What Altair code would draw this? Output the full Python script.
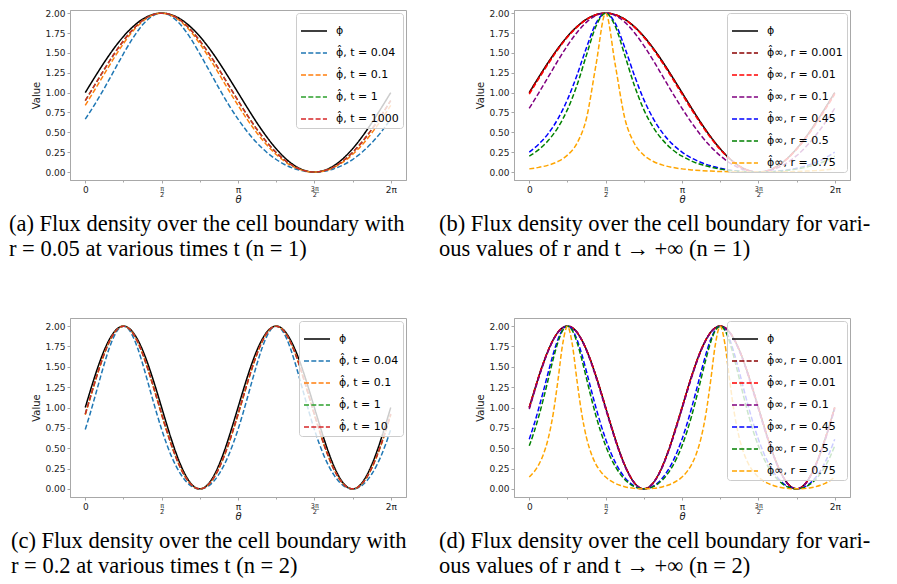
import altair as alt
import pandas as pd

# ---------------- theta grids ----------------
THETA_N1 = [0, 0.196, 0.393, 0.589, 0.785, 0.982, 1.178, 1.374, 1.571, 1.767, 1.963, 2.160, 2.356,
            2.553, 2.749, 2.945, 3.142, 3.338, 3.534, 3.731, 3.927, 4.123, 4.320, 4.516, 4.712,
            4.909, 5.105, 5.301, 5.498, 5.694, 5.890, 6.087, 6.283]
THETA_N2 = [0, 0.098, 0.196, 0.295, 0.393, 0.491, 0.589, 0.687, 0.785, 0.884, 0.982, 1.080, 1.178,
            1.276, 1.374, 1.473, 1.571, 1.669, 1.767, 1.865, 1.963, 2.062, 2.160, 2.258, 2.356,
            2.454, 2.553, 2.651, 2.749, 2.847, 2.945, 3.043, 3.142, 3.240, 3.338, 3.436, 3.534,
            3.633, 3.731, 3.829, 3.927, 4.025, 4.123, 4.221, 4.320, 4.418, 4.516, 4.614, 4.712,
            4.811, 4.909, 5.007, 5.105, 5.203, 5.301, 5.400, 5.498, 5.596, 5.694, 5.792, 5.890,
            5.989, 6.087, 6.185, 6.283]

# ---------------- panel (a): n = 1, r = 0.05 ----------------
A_PHI = [1.0, 1.195, 1.383, 1.556, 1.707, 1.831, 1.924, 1.981, 2.0, 1.981, 1.924, 1.831, 1.707, 1.556,
         1.383, 1.195, 1.0, 0.805, 0.617, 0.444, 0.293, 0.169, 0.076, 0.019, 0.0, 0.019, 0.076, 0.169,
         0.293, 0.444, 0.617, 0.805, 1.0]
A_T004 = [0.667, 0.852, 1.057, 1.273, 1.489, 1.689, 1.853, 1.962, 2.0, 1.962, 1.853, 1.689, 1.489,
          1.273, 1.057, 0.852, 0.667, 0.504, 0.365, 0.25, 0.158, 0.088, 0.039, 0.01, 0.0, 0.01, 0.039,
          0.088, 0.158, 0.25, 0.365, 0.504, 0.667]
A_T01 = [0.84, 1.036, 1.237, 1.434, 1.617, 1.775, 1.896, 1.974, 2.0, 1.974, 1.896, 1.775, 1.617, 1.434,
         1.237, 1.036, 0.84, 0.656, 0.489, 0.343, 0.221, 0.125, 0.056, 0.014, 0.0, 0.014, 0.056, 0.125,
         0.221, 0.343, 0.489, 0.656, 0.84]
A_T1 = [0.9, 1.097, 1.294, 1.483, 1.653, 1.798, 1.908, 1.977, 2.0, 1.977, 1.908, 1.798, 1.653, 1.483,
        1.294, 1.097, 0.9, 0.711, 0.535, 0.379, 0.246, 0.14, 0.063, 0.016, 0.0, 0.016, 0.063, 0.14,
        0.246, 0.379, 0.535, 0.711, 0.9]
A_T1000 = [0.9, 1.097, 1.294, 1.483, 1.653, 1.798, 1.908, 1.977, 2.0, 1.977, 1.908, 1.798, 1.653, 1.483,
           1.294, 1.097, 0.9, 0.711, 0.535, 0.379, 0.246, 0.14, 0.063, 0.016, 0.0, 0.016, 0.063, 0.14,
           0.246, 0.379, 0.535, 0.711, 0.9]

# ---------------- panel (b): n = 1, t -> inf ----------------
B_PHI = [1.0, 1.195, 1.383, 1.556, 1.707, 1.831, 1.924, 1.981, 2.0, 1.981, 1.924, 1.831, 1.707, 1.556,
         1.383, 1.195, 1.0, 0.805, 0.617, 0.444, 0.293, 0.169, 0.076, 0.019, 0.0, 0.019, 0.076, 0.169,
         0.293, 0.444, 0.617, 0.805, 1.0]
B_R0001 = [0.998, 1.193, 1.381, 1.554, 1.706, 1.831, 1.924, 1.981, 2.0, 1.981, 1.924, 1.831, 1.706,
           1.554, 1.381, 1.193, 0.998, 0.803, 0.616, 0.443, 0.292, 0.168, 0.076, 0.019, 0.0, 0.019,
           0.076, 0.168, 0.292, 0.443, 0.616, 0.803, 0.998]
B_R001 = [0.98, 1.176, 1.365, 1.542, 1.697, 1.825, 1.921, 1.98, 2.0, 1.98, 1.921, 1.825, 1.697, 1.542,
          1.365, 1.176, 0.98, 0.786, 0.6, 0.431, 0.283, 0.162, 0.073, 0.018, 0.0, 0.018, 0.073, 0.162,
          0.283, 0.431, 0.6, 0.786, 0.98]
B_R01 = [0.802, 0.997, 1.2, 1.402, 1.592, 1.758, 1.888, 1.971, 2.0, 1.971, 1.888, 1.758, 1.592, 1.402,
         1.2, 0.997, 0.802, 0.622, 0.46, 0.321, 0.206, 0.116, 0.052, 0.013, 0.0, 0.013, 0.052, 0.116,
         0.206, 0.321, 0.46, 0.622, 0.802]
B_R045 = [0.252, 0.352, 0.487, 0.67, 0.912, 1.22, 1.569, 1.874, 2.0, 1.874, 1.569, 1.22, 0.912, 0.67,
          0.487, 0.352, 0.252, 0.177, 0.121, 0.079, 0.048, 0.026, 0.011, 0.003, 0.0, 0.003, 0.011,
          0.026, 0.048, 0.079, 0.121, 0.177, 0.252]
B_R05 = [0.2, 0.283, 0.399, 0.56, 0.786, 1.094, 1.475, 1.839, 2.0, 1.839, 1.475, 1.094, 0.786, 0.56,
         0.399, 0.283, 0.2, 0.139, 0.095, 0.062, 0.037, 0.02, 0.009, 0.002, 0.0, 0.002, 0.009, 0.02,
         0.037, 0.062, 0.095, 0.139, 0.2]
B_R075 = [0.04, 0.059, 0.087, 0.133, 0.213, 0.363, 0.681, 1.356, 2.0, 1.356, 0.681, 0.363, 0.213,
          0.133, 0.087, 0.059, 0.04, 0.027, 0.018, 0.012, 0.007, 0.004, 0.002, 0.0, 0.0, 0.0, 0.002,
          0.004, 0.007, 0.012, 0.018, 0.027, 0.04]

# ---------------- panel (c): n = 2, r = 0.2 ----------------
C_PHI = [1.0, 1.195, 1.383, 1.556, 1.707, 1.831, 1.924, 1.981, 2.0,
         1.981, 1.924, 1.831, 1.707, 1.556, 1.383, 1.195, 1.0, 0.805, 0.617, 0.444, 0.293, 0.169, 0.076, 0.019, 0.0,
         0.019, 0.076, 0.169, 0.293, 0.444, 0.617, 0.805, 1.0, 1.195, 1.383, 1.556, 1.707, 1.831, 1.924, 1.981, 2.0,
         1.981, 1.924, 1.831, 1.707, 1.556, 1.383, 1.195, 1.0, 0.805, 0.617, 0.444, 0.293, 0.169, 0.076, 0.019, 0.0,
         0.019, 0.076, 0.169, 0.293, 0.444, 0.617, 0.805, 1.0]
C_T004 = [0.73, 0.921, 1.126, 1.336, 1.54, 1.724, 1.871, 1.967, 2.0,
          1.967, 1.871, 1.724, 1.54, 1.336, 1.126, 0.921, 0.73, 0.558, 0.408, 0.282, 0.18, 0.1, 0.044, 0.011, 0.0,
          0.011, 0.044, 0.1, 0.18, 0.282, 0.408, 0.558, 0.73, 0.921, 1.126, 1.336, 1.54, 1.724, 1.871, 1.967, 2.0,
          1.967, 1.871, 1.724, 1.54, 1.336, 1.126, 0.921, 0.73, 0.558, 0.408, 0.282, 0.18, 0.1, 0.044, 0.011, 0.0,
          0.011, 0.044, 0.1, 0.18, 0.282, 0.408, 0.558, 0.73]
C_T01 = [0.909, 1.106, 1.302, 1.489, 1.659, 1.801, 1.909, 1.977, 2.0,
         1.977, 1.909, 1.801, 1.659, 1.489, 1.302, 1.106, 0.909, 0.719, 0.542, 0.385, 0.25, 0.142, 0.064, 0.016, 0.0,
         0.016, 0.064, 0.142, 0.25, 0.385, 0.542, 0.719, 0.909, 1.106, 1.302, 1.489, 1.659, 1.801, 1.909, 1.977, 2.0,
         1.977, 1.909, 1.801, 1.659, 1.489, 1.302, 1.106, 0.909, 0.719, 0.542, 0.385, 0.25, 0.142, 0.064, 0.016, 0.0,
         0.016, 0.064, 0.142, 0.25, 0.385, 0.542, 0.719, 0.909]
C_T1 = [0.92, 1.117, 1.312, 1.498, 1.665, 1.805, 1.911, 1.977, 2.0,
        1.977, 1.911, 1.805, 1.665, 1.498, 1.312, 1.117, 0.92, 0.729, 0.551, 0.392, 0.255, 0.145, 0.065, 0.016, 0.0,
        0.016, 0.065, 0.145, 0.255, 0.392, 0.551, 0.729, 0.92, 1.117, 1.312, 1.498, 1.665, 1.805, 1.911, 1.977, 2.0,
        1.977, 1.911, 1.805, 1.665, 1.498, 1.312, 1.117, 0.92, 0.729, 0.551, 0.392, 0.255, 0.145, 0.065, 0.016, 0.0,
        0.016, 0.065, 0.145, 0.255, 0.392, 0.551, 0.729, 0.92]
C_T10 = [0.92, 1.117, 1.312, 1.498, 1.665, 1.805, 1.911, 1.977, 2.0,
         1.977, 1.911, 1.805, 1.665, 1.498, 1.312, 1.117, 0.92, 0.729, 0.551, 0.392, 0.255, 0.145, 0.065, 0.016, 0.0,
         0.016, 0.065, 0.145, 0.255, 0.392, 0.551, 0.729, 0.92, 1.117, 1.312, 1.498, 1.665, 1.805, 1.911, 1.977, 2.0,
         1.977, 1.911, 1.805, 1.665, 1.498, 1.312, 1.117, 0.92, 0.729, 0.551, 0.392, 0.255, 0.145, 0.065, 0.016, 0.0,
         0.016, 0.065, 0.145, 0.255, 0.392, 0.551, 0.729, 0.92]

# ---------------- panel (d): n = 2, t -> inf ----------------
D_PHI = [1.0, 1.195, 1.383, 1.556, 1.707, 1.831, 1.924, 1.981, 2.0,
         1.981, 1.924, 1.831, 1.707, 1.556, 1.383, 1.195, 1.0, 0.805, 0.617, 0.444, 0.293, 0.169, 0.076, 0.019, 0.0,
         0.019, 0.076, 0.169, 0.293, 0.444, 0.617, 0.805, 1.0, 1.195, 1.383, 1.556, 1.707, 1.831, 1.924, 1.981, 2.0,
         1.981, 1.924, 1.831, 1.707, 1.556, 1.383, 1.195, 1.0, 0.805, 0.617, 0.444, 0.293, 0.169, 0.076, 0.019, 0.0,
         0.019, 0.076, 0.169, 0.293, 0.444, 0.617, 0.805, 1.0]
D_R0001 = [1.0, 1.195, 1.383, 1.556, 1.707, 1.831, 1.924, 1.981, 2.0,
           1.981, 1.924, 1.831, 1.707, 1.556, 1.383, 1.195, 1.0, 0.805, 0.617, 0.444, 0.293, 0.169, 0.076, 0.019, 0.0,
           0.019, 0.076, 0.169, 0.293, 0.444, 0.617, 0.805, 1.0, 1.195, 1.383, 1.556, 1.707, 1.831, 1.924, 1.981, 2.0,
           1.981, 1.924, 1.831, 1.707, 1.556, 1.383, 1.195, 1.0, 0.805, 0.617, 0.444, 0.293, 0.169, 0.076, 0.019, 0.0,
           0.019, 0.076, 0.169, 0.293, 0.444, 0.617, 0.805, 1.0]
D_R001 = [1.0, 1.195, 1.383, 1.556, 1.707, 1.831, 1.924, 1.981, 2.0,
          1.981, 1.924, 1.831, 1.707, 1.556, 1.383, 1.195, 1.0, 0.805, 0.617, 0.444, 0.293, 0.169, 0.076, 0.019, 0.0,
          0.019, 0.076, 0.169, 0.293, 0.444, 0.617, 0.805, 1.0, 1.195, 1.383, 1.556, 1.707, 1.831, 1.924, 1.981, 2.0,
          1.981, 1.924, 1.831, 1.707, 1.556, 1.383, 1.195, 1.0, 0.805, 0.617, 0.444, 0.293, 0.169, 0.076, 0.019, 0.0,
          0.019, 0.076, 0.169, 0.293, 0.444, 0.617, 0.805, 1.0]
D_R01 = [0.98, 1.176, 1.365, 1.542, 1.697, 1.825, 1.921, 1.98, 2.0,
         1.98, 1.921, 1.825, 1.697, 1.542, 1.365, 1.176, 0.98, 0.786, 0.6, 0.431, 0.283, 0.162, 0.073, 0.018, 0.0,
         0.018, 0.073, 0.162, 0.283, 0.431, 0.6, 0.786, 0.98, 1.176, 1.365, 1.542, 1.697, 1.825, 1.921, 1.98, 2.0,
         1.98, 1.921, 1.825, 1.697, 1.542, 1.365, 1.176, 0.98, 0.786, 0.6, 0.431, 0.283, 0.162, 0.073, 0.018, 0.0,
         0.018, 0.073, 0.162, 0.283, 0.431, 0.6, 0.786, 0.98]
D_R045 = [0.611, 0.79, 0.993, 1.212, 1.439, 1.654, 1.835, 1.957, 2.0,
          1.957, 1.835, 1.654, 1.439, 1.212, 0.993, 0.79, 0.611, 0.457, 0.328, 0.223, 0.14, 0.078, 0.034, 0.008, 0.0,
          0.008, 0.034, 0.078, 0.14, 0.223, 0.328, 0.457, 0.611, 0.79, 0.993, 1.212, 1.439, 1.654, 1.835, 1.957, 2.0,
          1.957, 1.835, 1.654, 1.439, 1.212, 0.993, 0.79, 0.611, 0.457, 0.328, 0.223, 0.14, 0.078, 0.034, 0.008, 0.0,
          0.008, 0.034, 0.078, 0.14, 0.223, 0.328, 0.457, 0.611]
D_R05 = [0.529, 0.697, 0.893, 1.115, 1.354, 1.593, 1.802, 1.948, 2.0,
         1.948, 1.802, 1.593, 1.354, 1.115, 0.893, 0.697, 0.529, 0.39, 0.277, 0.187, 0.116, 0.064, 0.028, 0.007, 0.0,
         0.007, 0.028, 0.064, 0.116, 0.187, 0.277, 0.39, 0.529, 0.697, 0.893, 1.115, 1.354, 1.593, 1.802, 1.948, 2.0,
         1.948, 1.802, 1.593, 1.354, 1.115, 0.893, 0.697, 0.529, 0.39, 0.277, 0.187, 0.116, 0.064, 0.028, 0.007, 0.0,
         0.007, 0.028, 0.064, 0.116, 0.187, 0.277, 0.39, 0.529]
D_R075 = [0.145, 0.209, 0.299, 0.431, 0.627, 0.92, 1.329, 1.78, 2.0,
          1.78, 1.329, 0.92, 0.627, 0.431, 0.299, 0.209, 0.145, 0.1, 0.068, 0.044, 0.027, 0.014, 0.006, 0.002, 0.0,
          0.002, 0.006, 0.014, 0.027, 0.044, 0.068, 0.1, 0.145, 0.209, 0.299, 0.431, 0.627, 0.92, 1.329, 1.78, 2.0,
          1.78, 1.329, 0.92, 0.627, 0.431, 0.299, 0.209, 0.145, 0.1, 0.068, 0.044, 0.027, 0.014, 0.006, 0.002, 0.0,
          0.002, 0.006, 0.014, 0.027, 0.044, 0.068, 0.1, 0.145]

# ---------------- labels, colours, captions ----------------
PHI = "\u03d5"
PHIHAT = "\u03d5\u0302"
T_LABELS_A = [PHI, PHIHAT + ", t = 0.04", PHIHAT + ", t = 0.1", PHIHAT + ", t = 1", PHIHAT + ", t = 1000"]
T_LABELS_C = [PHI, PHIHAT + ", t = 0.04", PHIHAT + ", t = 0.1", PHIHAT + ", t = 1", PHIHAT + ", t = 10"]
R_LABELS = [PHI, PHIHAT + "\u221e, r = 0.001", PHIHAT + "\u221e, r = 0.01", PHIHAT + "\u221e, r = 0.1",
            PHIHAT + "\u221e, r = 0.45", PHIHAT + "\u221e, r = 0.5", PHIHAT + "\u221e, r = 0.75"]
T_COLORS = ["black", "#1f77b4", "#ff7f0e", "#2ca02c", "#d62728"]
R_COLORS = ["black", "darkred", "red", "purple", "blue", "green", "orange"]

CAP_A = ["(a) Flux density over the cell boundary with", "r = 0.05 at various times t  (n = 1)"]
CAP_B = ["(b) Flux density over the cell boundary for vari-", "ous values of r and t \u2192 +\u221e (n = 1)"]
CAP_C = ["(c) Flux density over the cell boundary with", "r = 0.2 at various times t  (n = 2)"]
CAP_D = ["(d) Flux density over the cell boundary for vari-", "ous values of r and t \u2192 +\u221e (n = 2)"]

# major ticks at multiples of pi/2, minor (unlabelled) ticks at odd multiples of pi/4
X_TICKS = [0, 0.7854, 1.5708, 2.3562, 3.1416, 3.927, 4.7124, 5.4978, 6.2832]
Y_TICKS = [0, 0.25, 0.5, 0.75, 1.0, 1.25, 1.5, 1.75, 2.0]

SOLID = [1, 0]
DASHED = [5, 2.3]
GRAY = "#a8a8a8"

MINOR_TEST = "indexof([0.7854, 2.3562, 3.927, 5.4978], datum.value) >= 0"
FRAC_TEST = "abs(datum.value - 1.5708) < 0.01 || abs(datum.value - 4.7124) < 0.01"
X_LABEL_EXPR = (
    "indexof([0.7854, 2.3562, 3.927, 5.4978], datum.value) >= 0 ? '' : "
    "abs(datum.value - 1.5708) < 0.01 ? ['\u03c0\u0332', '2'] : "
    "abs(datum.value - 4.7124) < 0.01 ? ['3\u0332\u03c0\u0332', '2'] : "
    "datum.value < 0.5 ? '0' : datum.value < 4 ? '\u03c0' : '2\u03c0'"
)


def panel(theta, series, labels, colors, ydom, h, caption, dx):
    rows = []
    for k, (lab, vals) in enumerate(zip(labels, series)):
        if len(vals) != len(theta):
            raise ValueError(f"{lab}: {len(vals)} values vs {len(theta)} thetas")
        for t, v in zip(theta, vals):
            rows.append({"theta": t, "value": v, "series": lab, "k": k})
    df = pd.DataFrame(rows)
    dashes = [SOLID] + [DASHED] * (len(labels) - 1)
    leg = alt.Legend(
        title=None, orient="top-right", offset=3, padding=4,
        fillColor="rgba(255,255,255,0.8)", strokeColor="#cccccc", cornerRadius=3,
        symbolType="stroke", symbolSize=676, symbolStrokeWidth=1.5,
        labelFont="DejaVu Sans", labelFontSize=11, labelColor="black", labelOffset=8,
        labelLimit=0, rowPadding=3,
    )
    xaxis = alt.Axis(
        values=X_TICKS, labelExpr=X_LABEL_EXPR, labelAngle=0, labelOverlap=False,
        labelFontSize={"condition": {"test": FRAC_TEST, "value": 6.5}, "value": 9},
        tickSize={"condition": {"test": MINOR_TEST, "value": 2}, "value": 3},
        labelLineHeight=6.5, labelFont="DejaVu Sans", labelColor="#222", labelPadding=2,
        tickColor=GRAY, domainColor=GRAY, grid=False,
        title="\u03b8", titleFont="DejaVu Sans", titleFontSize=10, titleFontStyle="italic",
        titleFontWeight="normal", titleColor="#222", titlePadding=-4,
    )
    yaxis = alt.Axis(
        values=Y_TICKS, format=".2f", labelFont="DejaVu Sans", labelFontSize=9, labelColor="#222",
        labelPadding=2, tickSize=3, tickColor=GRAY, domainColor=GRAY, grid=False,
        title="Value", titleFont="DejaVu Sans", titleFontSize=10, titleFontWeight="normal",
        titleColor="#222", titlePadding=3,
    )
    return alt.Chart(df).mark_line(strokeWidth=1.5, interpolate="monotone", clip=True).encode(
        x=alt.X("theta:Q", scale=alt.Scale(domain=[-0.3142, 6.5973], nice=False, zero=False), axis=xaxis),
        y=alt.Y("value:Q", scale=alt.Scale(domain=ydom, nice=False, zero=False), axis=yaxis),
        color=alt.Color("series:N", scale=alt.Scale(domain=labels, range=colors), legend=leg),
        strokeDash=alt.StrokeDash("series:N", scale=alt.Scale(domain=labels, range=dashes), legend=leg),
    ).properties(
        width=336, height=h,
        title=alt.TitleParams(
            text=caption, orient="bottom", anchor="start", frame="group", dx=dx, offset=9,
            font="Liberation Serif", fontSize=22.5, fontWeight="normal", color="black", lineHeight=25,
        ),
    )


pa = panel(THETA_N1, [A_PHI, A_T004, A_T01, A_T1, A_T1000], T_LABELS_A, T_COLORS, [-0.1, 2.04], 170, CAP_A, -61)
pb = panel(THETA_N1, [B_PHI, B_R0001, B_R001, B_R01, B_R045, B_R05, B_R075], R_LABELS, R_COLORS, [-0.1, 2.04], 170, CAP_B, -75)
pc = panel(THETA_N2, [C_PHI, C_T004, C_T01, C_T1, C_T10], T_LABELS_C, T_COLORS, [-0.1, 2.1], 179, CAP_C, -59)
pd_ = panel(THETA_N2, [D_PHI, D_R0001, D_R001, D_R01, D_R045, D_R05, D_R075], R_LABELS, R_COLORS, [-0.1, 2.1], 179, CAP_D, -75)

chart = alt.concat(pa, pb, pc, pd_, columns=2, spacing={"row": 138, "column": 108}, bounds="flush").resolve_scale(
    color="independent", strokeDash="independent", x="independent", y="independent"
).resolve_legend(
    color="independent", strokeDash="independent"
).properties(
    padding={"top": 0, "left": 0, "right": 0, "bottom": 0}
).configure(font="DejaVu Sans").configure_view(stroke=GRAY, strokeWidth=1)

chart.save("out.html", embed_options={"renderer": "svg", "actions": False})
